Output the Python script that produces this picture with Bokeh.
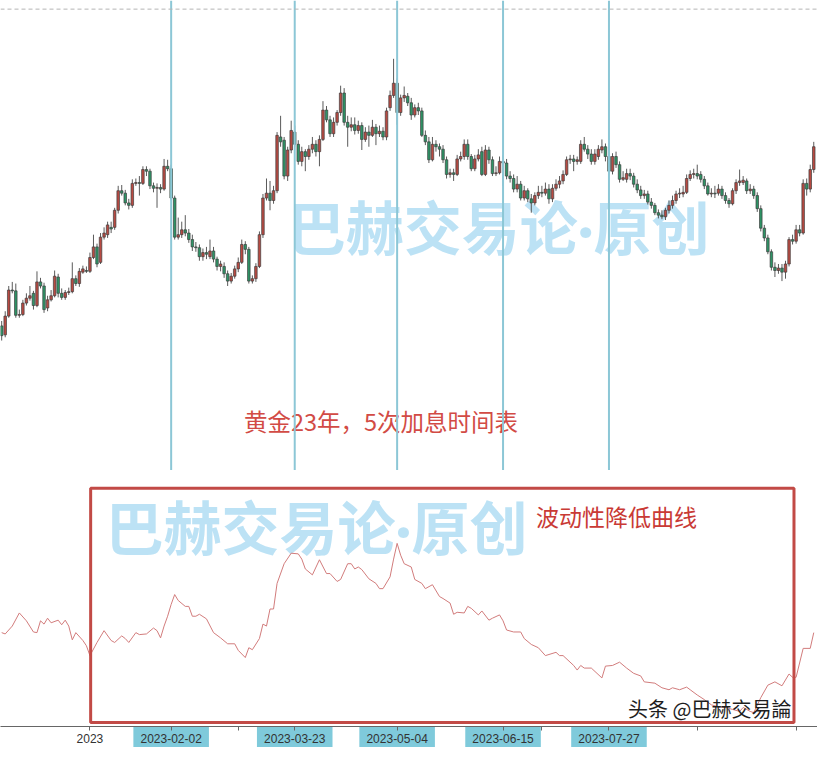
from bokeh.plotting import figure
from bokeh.layouts import column
from bokeh.models import Range1d, Span, BoxAnnotation, LinearAxis, FixedTicker
from bokeh.core.properties import value
from bokeh.embed import file_html
from bokeh.resources import INLINE

# ---------------- data (daily gold candles, bar index 0..230) ----------------
opens = [1755, 1744, 1767, 1799, 1798, 1768, 1769, 1783, 1789, 1795,
         1780, 1809, 1804, 1777, 1787, 1792, 1815, 1795, 1790, 1796,
         1797, 1813, 1807, 1821, 1823, 1822, 1839, 1852, 1833, 1864,
         1867, 1876, 1876, 1897, 1921, 1918, 1906, 1903, 1930, 1931,
         1930, 1947, 1945, 1927, 1924, 1925, 1923, 1951, 1948, 1912,
         1864, 1867, 1873, 1869, 1861, 1852, 1851, 1840, 1845, 1840,
         1847, 1837, 1828, 1828, 1819, 1810, 1816, 1825, 1833, 1855,
         1849, 1810, 1813, 1828, 1867, 1912, 1918, 1909, 1921, 1987,
         1983, 1939, 1971, 1993, 1978, 1957, 1969, 1963, 1972, 1978,
         1969, 1984, 2020, 2008, 1991, 2005, 2017, 2041, 2005, 1999,
         2002, 1995, 2001, 1984, 1993, 1989, 1999, 1991, 1994, 1987,
         2023, 2038, 2053, 2017, 2035, 2037, 2029, 2014, 2023, 2019,
         1989, 1981, 1959, 1978, 1975, 1972, 1959, 1941, 1943, 1941,
         1960, 1963, 1978, 1963, 1948, 1960, 1969, 1941, 1971, 1959,
         1942, 1943, 1957, 1955, 1939, 1936, 1923, 1929, 1912, 1921,
         1911, 1906, 1915, 1919, 1918, 1923, 1911, 1924, 1929, 1933,
         1941, 1959, 1960, 1957, 1957, 1978, 1972, 1966, 1957, 1963,
         1971, 1975, 1963, 1945, 1963, 1953, 1935, 1935, 1942, 1939,
         1929, 1922, 1915, 1917, 1907, 1903, 1894, 1891, 1889, 1897,
         1903, 1909, 1917, 1917, 1919, 1936, 1941, 1942, 1941, 1935,
         1927, 1917, 1918, 1918, 1923, 1915, 1909, 1905, 1921, 1931,
         1931, 1933, 1921, 1923, 1915, 1899, 1875, 1863, 1846, 1827,
         1823, 1826, 1821, 1831, 1861, 1859, 1873, 1869, 1930, 1923,
         1947]
closes = [1743, 1767, 1799, 1798, 1768, 1769, 1783, 1789, 1792, 1780,
          1809, 1804, 1775, 1787, 1792, 1816, 1795, 1790, 1796, 1797,
          1813, 1807, 1822, 1825, 1822, 1839, 1852, 1831, 1864, 1869,
          1879, 1874, 1897, 1921, 1918, 1906, 1903, 1930, 1931, 1930,
          1947, 1945, 1927, 1924, 1925, 1923, 1951, 1948, 1912, 1864,
          1867, 1873, 1869, 1861, 1852, 1851, 1840, 1845, 1843, 1847,
          1837, 1828, 1831, 1819, 1810, 1816, 1825, 1833, 1855, 1849,
          1810, 1813, 1828, 1867, 1912, 1918, 1909, 1921, 1989, 1981,
          1939, 1971, 1995, 1978, 1957, 1969, 1963, 1972, 1978, 1969,
          1984, 2020, 2008, 1991, 2005, 2017, 2041, 2005, 1999, 2002,
          1995, 2001, 1984, 1993, 1989, 1999, 1991, 1994, 1987, 2019,
          2038, 2053, 2017, 2035, 2038, 2029, 2014, 2023, 2019, 1989,
          1981, 1959, 1978, 1975, 1972, 1959, 1941, 1943, 1941, 1960,
          1963, 1978, 1963, 1948, 1960, 1965, 1941, 1971, 1959, 1942,
          1943, 1957, 1955, 1939, 1936, 1923, 1929, 1912, 1921, 1911,
          1906, 1915, 1919, 1918, 1923, 1911, 1924, 1929, 1933, 1941,
          1959, 1960, 1957, 1959, 1978, 1972, 1966, 1957, 1966, 1972,
          1975, 1963, 1945, 1963, 1953, 1935, 1937, 1942, 1939, 1929,
          1922, 1915, 1917, 1907, 1903, 1894, 1891, 1889, 1897, 1903,
          1909, 1917, 1918, 1919, 1936, 1941, 1942, 1939, 1935, 1927,
          1917, 1918, 1917, 1923, 1915, 1909, 1905, 1921, 1931, 1933,
          1934, 1921, 1923, 1915, 1899, 1875, 1863, 1846, 1827, 1823,
          1826, 1821, 1831, 1861, 1859, 1873, 1869, 1930, 1923, 1947,
          1975]
highs = [1761, 1773, 1804, 1809, 1807, 1775, 1787, 1795, 1804, 1798,
         1822, 1814, 1808, 1792, 1799, 1823, 1819, 1801, 1799, 1802,
         1833, 1817, 1826, 1829, 1828, 1845, 1867, 1856, 1869, 1876,
         1883, 1883, 1900, 1927, 1928, 1922, 1911, 1935, 1936, 1939,
         1951, 1951, 1948, 1931, 1930, 1929, 1960, 1959, 1953, 1915,
         1888, 1883, 1891, 1874, 1867, 1858, 1855, 1850, 1852, 1861,
         1852, 1840, 1835, 1833, 1823, 1820, 1829, 1839, 1861, 1859,
         1852, 1817, 1832, 1871, 1917, 1936, 1933, 1927, 1993, 2013,
         1987, 1975, 2007, 2001, 1983, 1975, 1972, 1977, 1987, 1983,
         1989, 2031, 2025, 2013, 2011, 2020, 2050, 2047, 2013, 2011,
         2011, 2007, 2005, 1999, 2001, 2008, 2003, 2001, 1999, 2023,
         2044, 2083, 2059, 2039, 2049, 2041, 2035, 2027, 2029, 2023,
         1995, 1987, 1987, 1983, 1979, 1977, 1963, 1948, 1948, 1965,
         1969, 1984, 1984, 1966, 1965, 1972, 1975, 1977, 1975, 1963,
         1951, 1963, 1965, 1960, 1945, 1941, 1939, 1933, 1927, 1924,
         1917, 1919, 1927, 1927, 1931, 1929, 1929, 1935, 1939, 1946,
         1963, 1965, 1965, 1963, 1983, 1987, 1977, 1972, 1972, 1977,
         1984, 1979, 1969, 1967, 1969, 1957, 1945, 1948, 1948, 1943,
         1935, 1927, 1922, 1921, 1912, 1906, 1898, 1897, 1900, 1909,
         1915, 1921, 1924, 1927, 1941, 1946, 1948, 1953, 1945, 1939,
         1931, 1924, 1927, 1929, 1927, 1919, 1912, 1924, 1935, 1947,
         1939, 1936, 1929, 1927, 1919, 1903, 1879, 1867, 1849, 1833,
         1831, 1831, 1835, 1864, 1867, 1879, 1879, 1935, 1936, 1953,
         1981]
lows = [1737, 1741, 1765, 1795, 1765, 1765, 1767, 1780, 1786, 1775,
        1778, 1801, 1771, 1773, 1785, 1790, 1790, 1787, 1787, 1793,
        1795, 1804, 1803, 1819, 1820, 1820, 1837, 1827, 1831, 1861,
        1863, 1869, 1873, 1893, 1915, 1903, 1898, 1900, 1927, 1915,
        1928, 1939, 1923, 1919, 1900, 1918, 1921, 1945, 1909, 1861,
        1861, 1863, 1865, 1857, 1847, 1846, 1835, 1835, 1837, 1837,
        1833, 1823, 1822, 1814, 1804, 1807, 1813, 1821, 1831, 1843,
        1807, 1807, 1809, 1826, 1863, 1909, 1897, 1905, 1918, 1975,
        1935, 1933, 1967, 1975, 1953, 1951, 1945, 1959, 1967, 1963,
        1951, 1982, 2005, 1987, 1987, 2001, 2013, 2001, 1975, 1994,
        1990, 1991, 1971, 1981, 1975, 1987, 1977, 1987, 1983, 1983,
        2019, 2035, 2002, 2013, 2030, 2025, 2008, 2011, 2014, 1987,
        1977, 1955, 1957, 1969, 1963, 1955, 1936, 1937, 1933, 1939,
        1957, 1959, 1959, 1945, 1945, 1957, 1939, 1939, 1954, 1939,
        1939, 1941, 1927, 1935, 1931, 1919, 1919, 1909, 1909, 1907,
        1894, 1903, 1911, 1913, 1915, 1905, 1907, 1921, 1924, 1929,
        1939, 1954, 1945, 1953, 1954, 1969, 1960, 1953, 1953, 1959,
        1967, 1957, 1941, 1941, 1949, 1931, 1933, 1931, 1934, 1925,
        1918, 1911, 1911, 1904, 1899, 1891, 1887, 1886, 1885, 1893,
        1899, 1905, 1912, 1913, 1917, 1933, 1936, 1935, 1931, 1923,
        1915, 1913, 1912, 1915, 1911, 1905, 1900, 1903, 1917, 1927,
        1928, 1917, 1917, 1911, 1895, 1871, 1859, 1843, 1823, 1815,
        1819, 1810, 1813, 1828, 1855, 1856, 1865, 1867, 1915, 1919,
        1943]

# volatility curve (bar index, value)
vol_idx = [0, 1, 3, 5, 7, 9, 10, 11, 12, 13,
           14, 16, 17, 18, 19, 20, 21, 23, 24, 25,
           27, 29, 31, 32, 34, 35, 36, 38, 39, 41,
           43, 44, 45, 46, 47, 48, 49, 50, 52, 53,
           54, 55, 56, 58, 60, 62, 64, 66, 67, 69,
           70, 71, 73, 74, 75, 76, 77, 78, 80, 82,
           84, 85, 86, 88, 90, 92, 93, 95, 96, 98,
           99, 100, 101, 102, 104, 106, 107, 108, 110, 111,
           112, 113, 114, 116, 117, 119, 120, 122, 124, 125,
           127, 128, 129, 131, 132, 133, 135, 136, 138, 139,
           141, 142, 143, 145, 147, 148, 150, 152, 154, 157,
           158, 159, 162, 163, 164, 165, 167, 170, 171, 173,
           175, 177, 179, 181, 182, 185, 187, 189, 190, 192,
           194, 195, 197, 199, 201, 203, 205, 207, 209, 210,
           212, 213, 215, 217, 219, 221, 223, 224, 225, 227,
           229, 230]
vol_val = [24.0, 23.8, 25.0, 27.0, 25.8, 24.1, 24.0, 25.8, 25.3, 26.2,
           25.5, 25.9, 25.2, 25.9, 25.0, 22.9, 24.0, 22.8, 22.0, 20.5,
           22.5, 24.3, 22.8, 22.5, 23.5, 23.1, 22.5, 24.0, 23.7, 23.8,
           24.7, 24.3, 23.2, 25.0, 26.5, 28.3, 29.8, 28.9, 28.0, 28.0,
           26.5, 26.5, 26.8, 26.1, 24.0, 23.2, 22.3, 22.3, 21.3, 20.2,
           21.7, 21.4, 23.1, 25.3, 25.0, 27.6, 27.6, 31.5, 34.5, 36.1,
           36.0, 35.2, 33.7, 32.8, 35.1, 33.0, 33.0, 31.8, 32.1, 34.5,
           34.5, 33.7, 34.0, 33.6, 32.2, 31.5, 30.7, 30.7, 32.5, 35.2,
           37.6, 35.8, 34.5, 34.0, 32.1, 31.5, 30.7, 31.3, 29.5, 29.2,
           28.5, 26.8, 27.1, 27.0, 28.0, 27.7, 26.7, 27.3, 25.9, 26.2,
           26.7, 25.8, 24.4, 24.1, 24.1, 23.1, 22.2, 21.7, 20.5, 21.0,
           20.5, 20.5, 19.0, 18.3, 19.0, 18.6, 18.6, 17.1, 18.9, 19.0,
           19.5, 18.6, 17.8, 17.4, 16.5, 16.3, 15.6, 15.3, 15.6, 15.3,
           15.7, 15.3, 14.5, 13.8, 13.0, 12.7, 12.6, 12.3, 12.0, 12.6,
           12.0, 11.8, 14.1, 16.0, 16.5, 15.9, 17.7, 17.2, 17.2, 21.6,
           21.6, 24.0]

# x-axis ticks (bar indices) and labels
tick_idx = [25, 48, 67, 83, 112, 142, 153, 172, 197, 225]
tick_labels = ["2023", "2023-02-02", "", "2023-03-23", "2023-05-04",
               "2023-06-15", "", "2023-07-27", "", ""]
hike_idx = [48, 83, 112, 142, 172]          # rate-hike dates
level_line = 2144                            # dashed price level
box_start, box_end = 25.2, 224.4             # highlighted period
box_low, box_high = 10.3, 46.0

CJK = value("Noto Sans CJK SC")
WM_FONT = value("Lato, Noto Sans CJK SC")
W = 817
xr = Range1d(-0.333, 231.06)

def base(fh, yr):
    f = figure(frame_width=W, frame_height=fh, x_range=xr, y_range=yr,
               output_backend="svg", toolbar_location=None,
               x_axis_location=None, y_axis_location=None,
               min_border=0, outline_line_color=None,
               background_fill_color="white", border_fill_color="white")
    f.xgrid.visible = False
    f.ygrid.visible = False
    return f

def plain_axis(minor, tick_in, color):
    return LinearAxis(ticker=FixedTicker(ticks=[], minor_ticks=minor),
                      major_tick_in=0, major_tick_out=0,
                      minor_tick_in=tick_in, minor_tick_out=0,
                      major_label_standoff=0, axis_line_color=color,
                      minor_tick_line_color=color, axis_line_width=1.2)

# ---------------- top panel: candles ----------------
top = base(470, Range1d(1577.4, 2154.6))
top.text(x=[81.0], y=[1876], text=["巴赫交易论·原创"], text_font=WM_FONT,
         text_font_size="58px", text_font_style="bold", text_color="#bce2f5",
         text_align="left", text_baseline="middle")
for loc in hike_idx:
    top.add_layout(Span(location=loc, dimension="height", line_color="#8cc7d6", line_width=2))
top.add_layout(Span(location=level_line, dimension="width", line_color="#b4b4b4",
                    line_dash="4 3", line_width=1))

xs = list(range(len(opens)))
top.segment(x0=xs, y0=highs, x1=xs, y1=lows, line_color="#5a5a5a", line_width=1)
up = [i for i in xs if closes[i] >= opens[i]]
dn = [i for i in xs if closes[i] < opens[i]]
top.vbar(x=up, width=0.72, top=[closes[i] for i in up], bottom=[opens[i] for i in up],
         fill_color="#b84a42", line_color="#3e3e3e", line_width=0.7)
top.vbar(x=dn, width=0.72, top=[opens[i] for i in dn], bottom=[closes[i] for i in dn],
         fill_color="#2e9466", line_color="#3e3e3e", line_width=0.7)
top.text(x=[68.6], y=[1638.6], text=["黄金23年，5次加息时间表"], text_font=CJK,
         text_font_size="23.5px", text_color="#d24b45", text_align="left", text_baseline="middle")
top.add_layout(plain_axis([], 0, "#555555"), "below")

# ---------------- bottom panel: volatility ----------------
bot = base(256, Range1d(9.7, 48.7))
bot.text(x=[29.4], y=[40.0], text=["巴赫交易论·原创"], text_font=WM_FONT,
         text_font_size="58px", text_font_style="bold", text_color="#bce2f5",
         text_align="left", text_baseline="middle")
bot.line(x=vol_idx, y=vol_val, line_color="#d27c7c", line_width=1)
bot.add_layout(BoxAnnotation(left=box_start, right=box_end, bottom=box_low, top=box_high,
                             fill_color=None, fill_alpha=0, line_color="#c24a46",
                             line_alpha=1, line_width=3))
bot.text(x=[151.3], y=[41.8], text=["波动性降低曲线"], text_font=CJK,
         text_font_size="23px", text_color="#c93a35", text_align="left", text_baseline="middle")
bot.text(x=[177.4], y=[12.4], text=["头条 @巴赫交易論"], text_font=CJK,
         text_font_size="20px", text_color="#1e1e1e", text_align="left", text_baseline="middle")

# ---------------- axis strip ----------------
strip = base(21, Range1d(0, 1))
strip.add_layout(plain_axis(tick_idx, 4, "#666666"), "above")
strip.quad(left=[i - 10.7 for i in hike_idx], right=[i + 10.7 for i in hike_idx],
           bottom=0, top=1, fill_color="#7fcadb", line_color=None)
strip.text(x=tick_idx, y=[0.45] * len(tick_idx), text=tick_labels,
           text_font=value("Liberation Sans"), text_font_size="12px", text_color="#333333",
           text_align="center", text_baseline="middle")

layout = column(top, bot, strip, spacing=0)
open("out.html", "w").write(file_html(layout, INLINE))
